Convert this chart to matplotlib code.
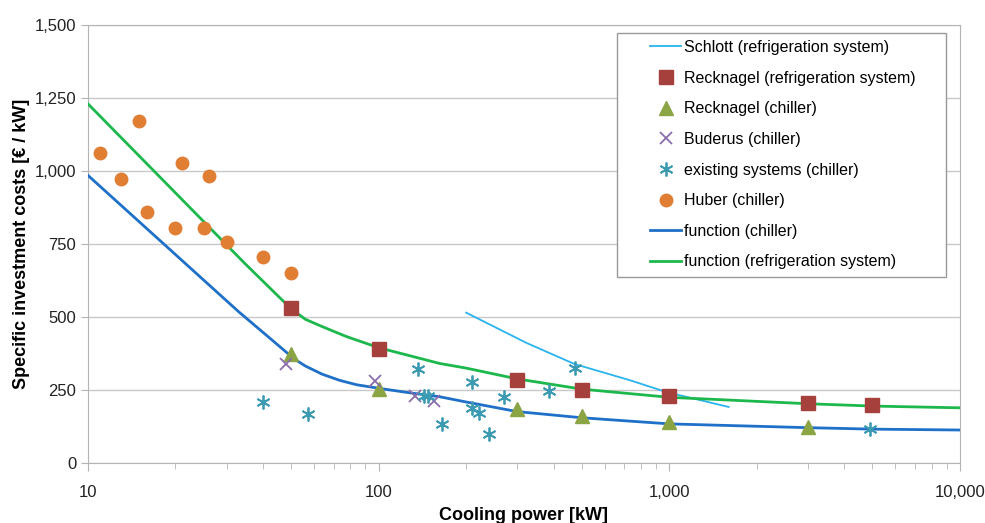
import matplotlib
matplotlib.use('Agg')
import matplotlib.pyplot as plt
from matplotlib.patches import Rectangle
from matplotlib.ticker import FuncFormatter, LogLocator, NullFormatter

plt.rcParams['font.family'] = ['Liberation Sans', 'DejaVu Sans']

# Schlott (refrigeration system) - line
schlott_x = [200, 323, 472, 729, 977, 1600]
schlott_y = [515, 411, 339, 284, 243, 192]

# Recknagel (refrigeration system) - squares
reck_rs_x = [50, 100, 300, 500, 1000, 3000, 5000]
reck_rs_y = [530, 390, 285, 250, 228, 205, 197]

# Recknagel (chiller) - triangles
reck_ch_x = [50, 100, 300, 500, 1000, 3000]
reck_ch_y = [372, 255, 186, 161, 139, 124]

# Buderus (chiller)
buderus_x = [48, 97, 133, 155]
buderus_y = [340, 280, 230, 213]

# existing systems (chiller)
exist_x = [40, 57, 137, 143, 148, 165, 209, 209, 222, 240, 269, 387, 472, 4900]
exist_y = [210, 168, 322, 230, 230, 134, 277, 190, 172, 100, 226, 246, 325, 116]

# Huber (chiller)
huber_x = [11, 13, 15, 16, 21, 20, 26, 25, 30, 40, 50]
huber_y = [1062, 973, 1170, 860, 1027, 805, 982, 805, 757, 705, 651]

# function (chiller)
fch_x = [10, 33, 43, 51, 56, 64, 73.5, 84, 103, 131, 162, 200, 300, 500, 1000, 3000, 5000, 10000]
fch_y = [985, 518, 421, 358, 332, 304, 283, 268, 254, 239, 227, 209, 176, 155, 134, 121, 116, 113]

# function (refrigeration system)
frs_x = [10, 34.6, 50, 56, 64, 77.5, 100, 162, 200, 300, 500, 1000, 3000, 5000, 10000]
frs_y = [1230, 684, 528, 492, 467, 433, 395, 341, 325, 288, 253, 225, 203, 195, 189]

fig = plt.figure(figsize=(9.85, 5.23), dpi=100)
ax = fig.add_axes([0.0893, 0.1147, 0.8853, 0.8375])

ax.plot(schlott_x, schlott_y, color='#29b4ee', lw=1.3, label='Schlott (refrigeration system)')
ax.plot(reck_rs_x, reck_rs_y, ls='none', marker='s', ms=10, color='#a6403d',
        label='Recknagel (refrigeration system)', zorder=4)
ax.plot(reck_ch_x, reck_ch_y, ls='none', marker='^', ms=10, color='#8ba545',
        label='Recknagel (chiller)', zorder=4)
ax.plot(buderus_x, buderus_y, ls='none', marker='x', ms=9, mew=1.3, color='#8a6daa',
        label='Buderus (chiller)', zorder=4)
ax.plot(exist_x, exist_y, ls='none', marker=(6, 2, 0), ms=10, mew=1.3, color='#3c9bb3',
        label='existing systems (chiller)', zorder=4)
ax.plot(huber_x, huber_y, ls='none', marker='o', ms=9, color='#e07f34',
        label='Huber (chiller)', zorder=4)
ax.plot(fch_x, fch_y, color='#1f70c8', lw=2, label='function (chiller)', zorder=3)
ax.plot(frs_x, frs_y, color='#1cb84c', lw=2, label='function (refrigeration system)', zorder=3)

ax.set_xscale('log')
ax.set_xlim(10, 10000)
ax.set_ylim(0, 1500)
ax.set_yticks([0, 250, 500, 750, 1000, 1250, 1500])
ax.yaxis.set_major_formatter(FuncFormatter(lambda v, p: f'{int(v):,}'))
ax.xaxis.set_major_locator(LogLocator(base=10))
ax.xaxis.set_minor_locator(LogLocator(base=10, subs=range(2, 10)))
ax.xaxis.set_major_formatter(FuncFormatter(lambda v, p: f'{int(round(v)):,}'))
ax.xaxis.set_minor_formatter(NullFormatter())

ax.grid(axis='y', color='#c8c8c8', lw=1)
ax.set_axisbelow(True)
for s in ax.spines.values():
    s.set_color('#b4b4b4')
ax.tick_params(axis='both', which='both', colors='#b4b4b4', labelcolor='#222222', labelsize=12)
ax.tick_params(axis='x', which='major', length=6, pad=10)
ax.tick_params(axis='x', which='minor', length=4)
ax.tick_params(axis='y', length=5)

ax.set_xlabel('Cooling power [kW]', fontsize=13, fontweight='bold', labelpad=5)
ax.set_ylabel('Specific investment costs [€ / kW]', fontsize=13, fontweight='bold', labelpad=3)

# legend frame drawn separately (Excel style: wide left margin)
ax.add_patch(Rectangle((0.6067, 0.4247), 0.3773, 0.557, transform=ax.transAxes,
                       facecolor='white', edgecolor='#999999', lw=1, zorder=5))
leg = ax.legend(loc='upper left', bbox_to_anchor=(0.6445, 0.966), fontsize=11.5,
                frameon=False, borderpad=0, borderaxespad=0,
                handlelength=1.95, labelspacing=0.98, handletextpad=0.2)
leg.set_zorder(6)

fig.savefig('out.png', dpi=100)
